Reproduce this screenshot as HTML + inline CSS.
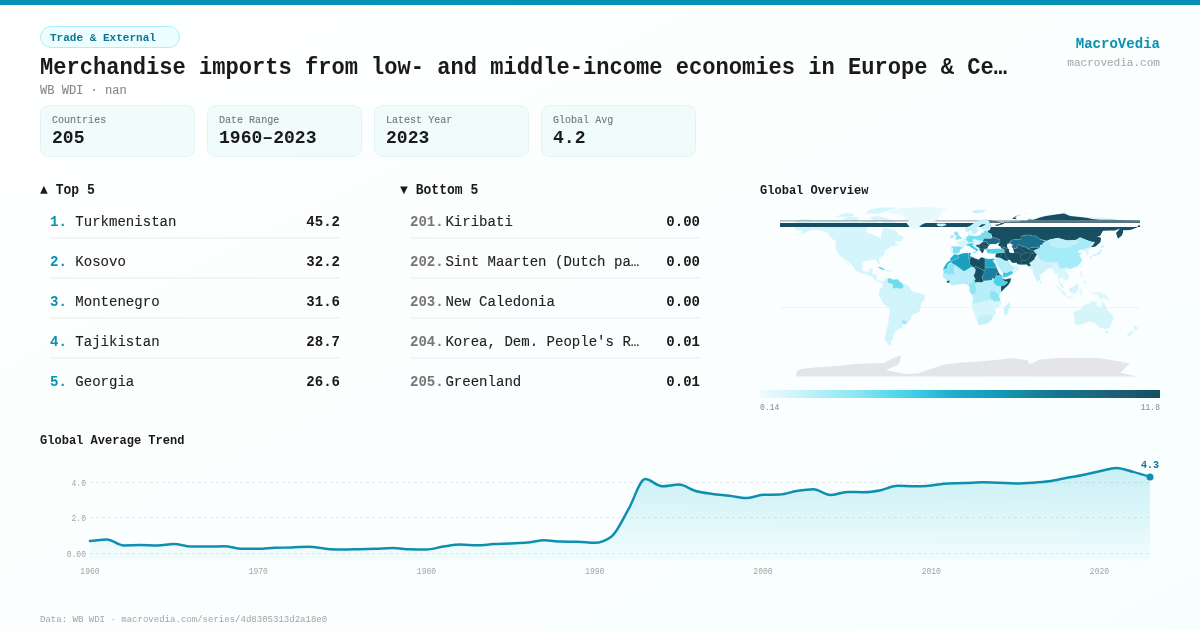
<!DOCTYPE html>
<html><head><meta charset="utf-8"><style>
html,body{margin:0;padding:0;width:1200px;height:630px;overflow:hidden;}
body{background:linear-gradient(to bottom right,#ffffff 0%,#f8fefe 100%);}
svg{display:block;font-family:"Liberation Mono", monospace;will-change:transform;}
</style></head><body>
<svg width="1200" height="630" viewBox="0 0 1200 630">
<rect x="0" y="0" width="1200" height="5" fill="#0891b2"/>
<rect x="40.5" y="26.5" width="139" height="21" rx="10.5" fill="#ecfeff" stroke="#a5f3fc" stroke-width="1"/>
<text x="50" y="41.2" font-size="11.77" fill="#0e7490" font-weight="bold" text-anchor="start" textLength="105.96" lengthAdjust="spacingAndGlyphs">Trade &amp; External</text>
<text x="40" y="73.8" font-size="23.54" fill="#1a1a1a" font-weight="bold" text-anchor="start" textLength="966.89" lengthAdjust="spacingAndGlyphs">Merchandise imports from low- and middle-income economies in Europe &amp; Ce…</text>
<text x="40" y="93.8" font-size="12.84" fill="#888888" font-weight="normal" text-anchor="start" textLength="86.70" lengthAdjust="spacingAndGlyphs" stroke="#888888" stroke-width="0.12">WB WDI · nan</text>
<text x="1160" y="48" font-size="14.98" fill="#0891b2" font-weight="bold" text-anchor="end" textLength="84.29" lengthAdjust="spacingAndGlyphs">MacroVedia</text>
<text x="1160" y="66" font-size="11.77" fill="#aaaaaa" font-weight="normal" text-anchor="end" textLength="92.72" lengthAdjust="spacingAndGlyphs" stroke="#aaaaaa" stroke-width="0.12">macrovedia.com</text>
<rect x="40.5" y="105.5" width="154" height="51" rx="8" fill="#f0fbfc" stroke="#e3f3f5" stroke-width="1"/>
<text x="52" y="123" font-size="10.70" fill="#777777" font-weight="normal" text-anchor="start" textLength="54.18" lengthAdjust="spacingAndGlyphs" stroke="#777777" stroke-width="0.12">Countries</text>
<text x="52" y="143" font-size="19.26" fill="#1a1a1a" font-weight="bold" text-anchor="start" textLength="32.51" lengthAdjust="spacingAndGlyphs">205</text>
<rect x="207.5" y="105.5" width="154" height="51" rx="8" fill="#f0fbfc" stroke="#e3f3f5" stroke-width="1"/>
<text x="219" y="123" font-size="10.70" fill="#777777" font-weight="normal" text-anchor="start" textLength="60.20" lengthAdjust="spacingAndGlyphs" stroke="#777777" stroke-width="0.12">Date Range</text>
<text x="219" y="143" font-size="19.26" fill="#1a1a1a" font-weight="bold" text-anchor="start" textLength="97.53" lengthAdjust="spacingAndGlyphs">1960–2023</text>
<rect x="374.5" y="105.5" width="154" height="51" rx="8" fill="#f0fbfc" stroke="#e3f3f5" stroke-width="1"/>
<text x="386" y="123" font-size="10.70" fill="#777777" font-weight="normal" text-anchor="start" textLength="66.23" lengthAdjust="spacingAndGlyphs" stroke="#777777" stroke-width="0.12">Latest Year</text>
<text x="386" y="143" font-size="19.26" fill="#1a1a1a" font-weight="bold" text-anchor="start" textLength="43.35" lengthAdjust="spacingAndGlyphs">2023</text>
<rect x="541.5" y="105.5" width="154" height="51" rx="8" fill="#f0fbfc" stroke="#e3f3f5" stroke-width="1"/>
<text x="553" y="123" font-size="10.70" fill="#777777" font-weight="normal" text-anchor="start" textLength="60.20" lengthAdjust="spacingAndGlyphs" stroke="#777777" stroke-width="0.12">Global Avg</text>
<text x="553" y="143" font-size="19.26" fill="#1a1a1a" font-weight="bold" text-anchor="start" textLength="32.51" lengthAdjust="spacingAndGlyphs">4.2</text>
<text x="40" y="194" font-size="13.91" fill="#1a1a1a" font-weight="bold" text-anchor="start" textLength="54.79" lengthAdjust="spacingAndGlyphs">▲ Top 5</text>
<text x="400" y="194" font-size="13.91" fill="#1a1a1a" font-weight="bold" text-anchor="start" textLength="78.27" lengthAdjust="spacingAndGlyphs">▼ Bottom 5</text>
<text x="50" y="226" font-size="14.98" fill="#0891b2" font-weight="bold" text-anchor="start" textLength="16.86" lengthAdjust="spacingAndGlyphs">1.</text>
<text x="75.3" y="226" font-size="14.98" fill="#222222" font-weight="normal" text-anchor="start" textLength="101.14" lengthAdjust="spacingAndGlyphs" stroke="#222222" stroke-width="0.12">Turkmenistan</text>
<text x="340" y="226" font-size="14.98" fill="#1a1a1a" font-weight="bold" text-anchor="end" textLength="33.71" lengthAdjust="spacingAndGlyphs">45.2</text>
<rect x="50" y="237" width="290" height="2" fill="#f3f4f5"/>
<text x="50" y="266" font-size="14.98" fill="#0891b2" font-weight="bold" text-anchor="start" textLength="16.86" lengthAdjust="spacingAndGlyphs">2.</text>
<text x="75.3" y="266" font-size="14.98" fill="#222222" font-weight="normal" text-anchor="start" textLength="50.57" lengthAdjust="spacingAndGlyphs" stroke="#222222" stroke-width="0.12">Kosovo</text>
<text x="340" y="266" font-size="14.98" fill="#1a1a1a" font-weight="bold" text-anchor="end" textLength="33.71" lengthAdjust="spacingAndGlyphs">32.2</text>
<rect x="50" y="277" width="290" height="2" fill="#f3f4f5"/>
<text x="50" y="306" font-size="14.98" fill="#0891b2" font-weight="bold" text-anchor="start" textLength="16.86" lengthAdjust="spacingAndGlyphs">3.</text>
<text x="75.3" y="306" font-size="14.98" fill="#222222" font-weight="normal" text-anchor="start" textLength="84.29" lengthAdjust="spacingAndGlyphs" stroke="#222222" stroke-width="0.12">Montenegro</text>
<text x="340" y="306" font-size="14.98" fill="#1a1a1a" font-weight="bold" text-anchor="end" textLength="33.71" lengthAdjust="spacingAndGlyphs">31.6</text>
<rect x="50" y="317" width="290" height="2" fill="#f3f4f5"/>
<text x="50" y="346" font-size="14.98" fill="#0891b2" font-weight="bold" text-anchor="start" textLength="16.86" lengthAdjust="spacingAndGlyphs">4.</text>
<text x="75.3" y="346" font-size="14.98" fill="#222222" font-weight="normal" text-anchor="start" textLength="84.29" lengthAdjust="spacingAndGlyphs" stroke="#222222" stroke-width="0.12">Tajikistan</text>
<text x="340" y="346" font-size="14.98" fill="#1a1a1a" font-weight="bold" text-anchor="end" textLength="33.71" lengthAdjust="spacingAndGlyphs">28.7</text>
<rect x="50" y="357" width="290" height="2" fill="#f3f4f5"/>
<text x="50" y="386" font-size="14.98" fill="#0891b2" font-weight="bold" text-anchor="start" textLength="16.86" lengthAdjust="spacingAndGlyphs">5.</text>
<text x="75.3" y="386" font-size="14.98" fill="#222222" font-weight="normal" text-anchor="start" textLength="59.00" lengthAdjust="spacingAndGlyphs" stroke="#222222" stroke-width="0.12">Georgia</text>
<text x="340" y="386" font-size="14.98" fill="#1a1a1a" font-weight="bold" text-anchor="end" textLength="33.71" lengthAdjust="spacingAndGlyphs">26.6</text>
<text x="410" y="226" font-size="14.98" fill="#777777" font-weight="bold" text-anchor="start" textLength="33.71" lengthAdjust="spacingAndGlyphs">201.</text>
<text x="445.4" y="226" font-size="14.98" fill="#222222" font-weight="normal" text-anchor="start" textLength="67.43" lengthAdjust="spacingAndGlyphs" stroke="#222222" stroke-width="0.12">Kiribati</text>
<text x="700" y="226" font-size="14.98" fill="#1a1a1a" font-weight="bold" text-anchor="end" textLength="33.71" lengthAdjust="spacingAndGlyphs">0.00</text>
<rect x="410" y="237" width="290" height="2" fill="#f3f4f5"/>
<text x="410" y="266" font-size="14.98" fill="#777777" font-weight="bold" text-anchor="start" textLength="33.71" lengthAdjust="spacingAndGlyphs">202.</text>
<text x="445.4" y="266" font-size="14.98" fill="#222222" font-weight="normal" text-anchor="start" textLength="193.86" lengthAdjust="spacingAndGlyphs" stroke="#222222" stroke-width="0.12">Sint Maarten (Dutch pa…</text>
<text x="700" y="266" font-size="14.98" fill="#1a1a1a" font-weight="bold" text-anchor="end" textLength="33.71" lengthAdjust="spacingAndGlyphs">0.00</text>
<rect x="410" y="277" width="290" height="2" fill="#f3f4f5"/>
<text x="410" y="306" font-size="14.98" fill="#777777" font-weight="bold" text-anchor="start" textLength="33.71" lengthAdjust="spacingAndGlyphs">203.</text>
<text x="445.4" y="306" font-size="14.98" fill="#222222" font-weight="normal" text-anchor="start" textLength="109.57" lengthAdjust="spacingAndGlyphs" stroke="#222222" stroke-width="0.12">New Caledonia</text>
<text x="700" y="306" font-size="14.98" fill="#1a1a1a" font-weight="bold" text-anchor="end" textLength="33.71" lengthAdjust="spacingAndGlyphs">0.00</text>
<rect x="410" y="317" width="290" height="2" fill="#f3f4f5"/>
<text x="410" y="346" font-size="14.98" fill="#777777" font-weight="bold" text-anchor="start" textLength="33.71" lengthAdjust="spacingAndGlyphs">204.</text>
<text x="445.4" y="346" font-size="14.98" fill="#222222" font-weight="normal" text-anchor="start" textLength="193.86" lengthAdjust="spacingAndGlyphs" stroke="#222222" stroke-width="0.12">Korea, Dem. People&#39;s R…</text>
<text x="700" y="346" font-size="14.98" fill="#1a1a1a" font-weight="bold" text-anchor="end" textLength="33.71" lengthAdjust="spacingAndGlyphs">0.01</text>
<rect x="410" y="357" width="290" height="2" fill="#f3f4f5"/>
<text x="410" y="386" font-size="14.98" fill="#777777" font-weight="bold" text-anchor="start" textLength="33.71" lengthAdjust="spacingAndGlyphs">205.</text>
<text x="445.4" y="386" font-size="14.98" fill="#222222" font-weight="normal" text-anchor="start" textLength="75.86" lengthAdjust="spacingAndGlyphs" stroke="#222222" stroke-width="0.12">Greenland</text>
<text x="700" y="386" font-size="14.98" fill="#1a1a1a" font-weight="bold" text-anchor="end" textLength="33.71" lengthAdjust="spacingAndGlyphs">0.01</text>
<text x="760" y="194" font-size="12.84" fill="#1a1a1a" font-weight="bold" text-anchor="start" textLength="108.37" lengthAdjust="spacingAndGlyphs">Global Overview</text>
<rect x="780" y="307" width="360" height="1" fill="#e3f6f9"/>
<polygon points="792.0,224.4 796.0,223.5 794.0,221.7 799.0,219.7 803.5,218.7 808.0,219.2 815.0,219.9 819.0,220.4 824.0,221.0 831.0,220.0 836.0,220.5 842.0,221.5 849.0,222.2 854.0,221.7 862.0,222.2 865.0,221.5 870.0,221.5 875.0,220.3 879.0,221.4 878.0,223.5 873.0,226.0 868.0,227.5 866.0,231.0 867.5,233.0 872.0,234.0 878.0,237.0 881.0,238.5 881.0,235.0 883.0,230.0 882.0,227.5 887.0,228.0 890.0,229.0 895.0,230.0 898.0,233.0 899.0,234.5 904.0,237.5 901.0,241.5 895.0,241.3 896.0,244.0 899.0,244.5 894.0,246.2 890.0,246.5 890.0,248.3 886.0,249.5 884.0,253.0 884.5,254.8 882.0,256.2 879.0,258.5 879.8,263.0 879.5,264.8 878.2,264.0 877.2,262.0 876.0,260.0 872.0,259.6 870.0,260.8 866.0,260.4 862.8,262.2 862.5,265.0 862.2,268.0 863.0,271.0 865.5,271.8 869.0,271.2 869.5,269.0 873.0,268.5 872.5,272.0 871.8,274.0 876.0,274.2 876.8,275.5 876.4,279.0 878.5,281.0 881.0,280.5 882.5,281.5 882.0,282.5 880.0,282.6 877.0,281.7 874.0,278.5 872.0,276.8 868.0,275.5 865.0,274.0 861.0,273.3 855.0,270.2 854.3,267.5 851.0,264.5 847.5,261.0 845.2,258.5 846.0,261.0 848.0,264.0 850.5,267.0 848.0,265.0 846.0,262.0 844.2,259.5 842.9,257.5 839.5,255.5 837.5,252.5 836.0,249.5 835.5,247.0 836.0,243.5 835.3,241.7 837.0,241.0 833.0,239.5 830.0,236.0 827.0,232.5 823.0,231.5 820.0,230.2 816.0,230.0 812.0,229.5 808.0,231.0 806.0,232.5 802.0,233.5 798.0,235.0 795.5,235.5 801.0,233.0 802.5,231.2 798.0,230.2 795.3,229.2 794.5,227.5 796.0,226.5 799.0,225.5 794.0,225.4" fill="#d3f5fb"/>
<polygon points="882.5,281.5 884.0,280.5 885.0,279.0 888.0,277.7 890.0,277.9 892.0,279.4 896.0,279.4 898.0,279.3 899.5,281.5 902.5,284.0 906.0,284.4 908.5,285.7 910.0,288.2 911.0,290.2 912.0,291.0 915.5,292.5 919.0,293.0 922.0,294.0 924.8,295.5 925.0,299.0 923.0,301.5 921.0,304.0 920.8,307.5 919.5,311.0 918.0,312.9 915.5,313.3 911.5,316.0 911.2,318.5 909.0,321.0 907.0,323.8 905.0,324.8 901.5,324.0 903.0,326.5 902.3,328.2 898.0,329.0 897.7,330.8 895.0,331.0 895.5,332.5 892.5,336.0 894.2,337.8 891.7,340.1 891.0,342.3 891.5,344.5 893.5,345.0 890.0,345.2 887.5,343.5 885.5,341.0 884.5,337.0 886.2,333.5 886.5,329.0 888.4,323.0 888.6,318.5 889.7,313.0 889.8,308.5 884.5,305.0 882.0,301.0 880.2,297.3 878.8,295.5 879.7,293.5 879.1,291.5 880.0,289.2 881.2,288.2 882.5,286.1 882.7,283.5 882.1,282.8" fill="#d0f4fa"/>
<polygon points="880.0,216.5 888.0,218.5 893.0,220.5 898.0,223.5 896.0,226.0 895.0,227.5 888.0,227.0 884.0,225.5 882.0,221.0 872.0,220.0 870.0,217.5 875.0,216.2" fill="#d3f5fb"/>
<polygon points="842.0,219.0 850.0,216.5 858.0,217.5 859.0,221.0 852.0,221.5 843.0,220.5" fill="#d3f5fb"/>
<polygon points="865.0,213.5 870.0,209.5 880.0,207.5 898.0,207.5 890.0,210.0 882.0,213.0 877.0,213.5" fill="#d3f5fb"/>
<polygon points="835.0,218.0 841.0,214.0 848.0,213.0 855.0,214.5 852.0,216.5 842.0,217.0" fill="#d3f5fb"/>
<polygon points="954.2,254.2 950.2,258.5 950.4,260.5 947.0,262.5 943.0,269.0 943.5,271.0 943.5,274.0 942.5,275.3 943.3,277.5 945.0,279.0 946.5,280.5 948.5,283.0 952.5,285.6 956.0,284.8 961.0,284.0 964.5,283.7 968.5,285.5 969.8,287.5 969.5,291.0 972.0,295.0 973.2,298.5 972.0,303.5 971.8,307.0 974.5,312.5 975.2,317.0 977.0,319.0 978.3,322.5 978.5,324.2 980.0,324.8 982.5,324.0 985.5,324.0 988.0,323.0 990.5,321.0 992.5,318.5 992.8,316.0 995.5,314.0 995.5,311.5 994.7,309.8 996.8,307.8 1000.5,305.0 1000.5,301.0 999.3,297.0 999.3,295.0 1001.5,291.7 1005.0,288.0 1008.0,285.5 1010.5,281.5 1011.2,278.2 1008.0,278.8 1005.0,279.5 1003.3,278.5 1003.2,277.3 1001.5,275.5 999.5,274.3 998.5,272.0 997.3,269.0 996.0,266.0 995.0,263.5 993.8,262.3 992.5,260.0 994.2,258.8 992.0,258.7 989.0,259.1 985.0,258.2 982.0,257.2 980.0,258.0 979.0,259.7 975.5,258.5 971.5,256.8 970.0,255.7 971.0,253.0 969.5,252.7 967.0,253.0 963.0,253.2 959.0,254.5 957.5,254.7" fill="#b8eef8"/>
<polygon points="1009.3,302.0 1010.5,305.5 1009.5,307.0 1008.3,311.5 1007.0,315.0 1005.0,315.5 1003.7,313.0 1004.0,310.0 1004.4,306.5 1006.3,305.7 1008.0,303.5" fill="#c9f2fa"/>
<polygon points="954.4,254.0 953.8,253.2 951.2,253.0 951.0,251.0 950.8,247.2 952.0,246.3 958.0,246.6 958.5,244.0 955.5,241.7 958.5,241.3 961.5,239.9 964.0,238.7 965.5,236.8 968.5,236.3 968.2,234.5 968.4,233.0 970.5,232.3 970.5,234.0 972.3,235.7 974.5,236.1 979.0,235.6 981.0,234.5 981.2,232.8 984.0,232.6 983.5,230.8 988.0,230.5 990.0,230.0 982.5,229.7 981.5,228.5 981.5,226.8 985.0,225.0 985.5,224.3 982.0,224.2 979.0,226.5 977.5,227.5 977.2,229.0 978.8,230.2 976.5,232.5 976.0,233.8 972.8,234.5 971.5,231.8 970.5,230.6 968.0,231.8 965.6,231.2 965.0,229.0 965.5,227.5 970.0,226.0 974.0,223.0 978.0,220.5 982.0,219.8 986.0,219.0 991.0,220.0 993.0,220.8 996.0,221.0 1001.0,222.5 1000.0,224.0 994.5,225.0 997.0,226.0 1004.0,223.8 1004.0,221.5 1007.0,222.0 1013.0,221.5 1019.0,221.5 1021.0,220.2 1026.0,220.7 1029.0,217.5 1033.0,219.0 1035.0,217.5 1040.0,216.5 1046.0,215.5 1056.0,214.0 1064.0,212.3 1073.0,216.5 1080.0,217.0 1088.0,217.5 1100.0,217.5 1110.0,218.5 1120.0,220.0 1130.0,220.0 1140.0,221.2 1140.0,225.0 1138.0,225.5 1137.0,227.5 1133.0,229.0 1130.0,230.0 1123.0,230.2 1123.0,232.5 1122.0,235.2 1118.0,238.8 1116.0,233.0 1120.0,228.5 1115.0,230.5 1110.0,230.5 1103.0,230.7 1100.0,236.0 1097.0,236.0 1101.0,238.0 1100.5,242.0 1095.5,246.5 1091.0,247.5 1089.5,249.5 1088.0,251.5 1089.3,254.5 1086.5,255.5 1086.5,252.5 1085.0,250.5 1081.5,251.0 1081.5,249.2 1078.0,251.0 1079.0,252.7 1082.5,253.0 1079.5,255.0 1080.8,257.5 1081.9,259.0 1081.9,260.5 1079.5,264.5 1076.5,267.0 1073.0,267.8 1070.5,269.0 1068.3,268.4 1066.5,270.0 1065.8,271.0 1068.8,274.7 1069.3,278.2 1066.5,280.5 1065.0,281.4 1064.8,279.5 1063.0,279.0 1060.8,277.3 1060.0,279.5 1059.2,280.8 1060.3,283.0 1062.0,284.0 1063.5,285.5 1063.5,288.6 1061.3,287.2 1060.3,284.5 1058.5,281.8 1058.5,279.5 1057.5,273.5 1054.5,274.0 1054.2,271.2 1052.3,269.2 1051.8,267.7 1050.0,268.2 1048.0,268.3 1046.8,269.5 1045.0,270.7 1042.3,273.4 1040.2,274.5 1040.3,277.0 1039.8,279.7 1037.5,282.0 1036.5,280.5 1034.8,277.2 1033.5,274.0 1032.8,270.7 1032.6,268.5 1030.5,269.0 1029.0,267.5 1028.3,266.3 1026.8,264.6 1021.5,264.8 1017.5,264.3 1016.5,262.8 1013.0,263.0 1011.3,262.0 1010.0,260.0 1008.0,259.8 1009.0,261.8 1010.5,264.5 1011.5,265.7 1014.0,265.8 1016.3,263.8 1016.5,265.5 1018.5,266.5 1019.8,267.6 1017.8,271.0 1016.0,272.1 1012.5,273.7 1008.5,276.0 1005.0,277.2 1003.3,277.2 1002.7,275.0 1002.2,272.5 1000.8,270.4 999.0,268.3 997.5,265.0 995.2,262.0 994.8,260.5 994.3,258.8 995.0,257.2 996.0,255.3 996.0,253.5 992.5,253.8 990.5,253.5 988.0,253.2 986.5,251.5 986.5,249.8 986.0,249.2 984.0,249.4 983.5,252.0 982.0,253.5 981.0,251.5 979.5,250.0 979.5,248.2 976.0,246.5 973.7,244.4 972.3,244.8 973.9,246.5 976.0,248.1 978.5,249.8 977.0,251.1 975.7,252.0 975.7,250.0 972.6,248.5 970.5,247.0 968.8,245.6 967.5,246.2 964.5,246.6 963.0,247.5 963.2,248.1 960.8,249.0 959.7,250.5 960.2,251.3 959.3,252.4 957.8,253.3 955.5,253.3" fill="#d8f6fb"/>
<polygon points="1069.0,288.5 1071.0,288.0 1075.0,285.0 1077.0,283.0 1079.0,285.0 1078.0,289.0 1076.0,293.7 1071.0,293.0 1069.5,291.0" fill="#d5f5fb"/>
<polygon points="1055.3,284.4 1058.0,286.0 1063.5,291.0 1066.0,293.0 1066.0,295.8 1064.5,295.9 1062.0,294.0 1060.0,291.0 1057.0,287.5" fill="#dff8fc"/>
<polygon points="1065.5,296.8 1068.0,296.0 1071.0,296.5 1074.5,297.7 1074.5,298.7 1068.0,297.8" fill="#dff8fc"/>
<polygon points="1079.0,290.0 1080.0,289.0 1085.0,288.5 1081.0,289.5 1083.0,291.0 1081.5,291.5 1083.0,295.0 1080.5,295.5 1079.5,293.0" fill="#e3f8fc"/>
<polygon points="1091.0,291.0 1095.0,293.3 1098.0,291.5 1101.0,292.6 1105.0,294.5 1107.5,296.0 1108.0,298.0 1110.5,300.6 1107.0,300.0 1104.0,297.8 1101.0,299.0 1099.0,298.0 1097.8,295.3 1093.0,294.0 1092.0,292.5" fill="#dcf7fb"/>
<polygon points="1080.5,271.5 1082.2,271.5 1082.0,274.0 1084.0,277.0 1080.5,276.5 1080.0,274.0" fill="#e3f8fc"/>
<polygon points="1082.0,283.0 1084.0,281.0 1086.0,280.5 1086.5,283.5 1085.5,284.2 1084.0,283.5" fill="#e3f8fc"/>
<polygon points="1080.2,267.2 1081.0,264.8 1082.0,265.0 1081.0,268.0" fill="#d3f5fb"/>
<polygon points="1068.6,270.8 1070.5,269.9 1071.0,270.4 1069.5,271.8" fill="#d3f5fb"/>
<polygon points="1039.8,283.5 1040.0,280.2 1041.8,282.5 1041.0,284.0" fill="#d3f5fb"/>
<polygon points="1101.0,248.5 1102.0,250.5 1100.5,254.5 1097.0,255.5 1095.0,256.2 1091.0,256.0 1092.5,254.5 1096.0,254.0 1097.0,253.0 1100.0,250.0 1100.0,248.7" fill="#d3f5fb"/>
<polygon points="1100.0,247.5 1101.5,244.5 1105.5,246.5 1103.0,248.0" fill="#d3f5fb"/>
<polygon points="1090.0,258.7 1091.5,258.5 1092.0,256.2 1089.5,256.5" fill="#d3f5fb"/>
<polygon points="1073.5,312.0 1074.0,316.0 1075.0,324.0 1078.0,325.0 1083.5,324.0 1089.0,321.6 1094.0,322.5 1098.0,325.5 1100.5,328.0 1104.0,328.4 1106.5,329.0 1110.0,327.5 1113.5,318.0 1113.0,315.0 1109.5,312.3 1106.0,308.5 1105.3,305.0 1103.5,302.8 1102.5,300.7 1101.5,303.0 1101.5,307.0 1100.5,307.5 1096.0,305.0 1097.0,302.0 1093.0,301.3 1090.0,302.0 1089.0,304.9 1086.0,304.0 1082.2,307.5 1080.0,310.0 1076.0,311.0" fill="#d6f5fb"/>
<polygon points="1104.7,330.7 1108.3,330.9 1108.0,333.2 1106.0,333.6" fill="#d3f5fb"/>
<polygon points="1132.7,324.5 1134.5,326.0 1138.5,327.7 1137.0,329.5 1135.0,331.6 1134.5,329.5" fill="#d3f5fb"/>
<polygon points="1132.7,330.5 1134.3,331.7 1131.0,334.5 1129.0,336.6 1126.5,336.0 1128.0,334.0" fill="#d3f5fb"/>
<polygon points="875.0,268.2 880.0,266.8 885.8,269.8 882.5,270.1 878.0,267.5" fill="#d3f5fb"/>
<polygon points="885.5,271.5 891.5,271.5 890.5,270.2 887.5,270.1" fill="#d3f5fb"/>
<polygon points="1028.2,266.3 1031.0,265.7 1029.5,263.5 1030.0,262.5 1031.0,262.0 1034.5,259.3 1035.0,257.5 1037.0,254.5 1039.0,255.7 1038.5,257.5 1041.0,260.0 1045.0,261.7 1048.0,262.2 1049.0,263.2 1052.0,262.2 1057.0,262.0 1055.0,264.0 1053.0,267.0 1052.3,269.2 1051.8,267.7 1050.0,268.2 1048.0,268.3 1046.8,269.5 1045.0,270.7 1042.3,273.4 1040.2,274.5 1040.3,277.0 1039.8,279.7 1037.5,282.0 1036.5,280.5 1034.8,277.2 1033.5,274.0 1032.8,270.7 1032.6,268.5 1030.5,269.0 1029.0,267.5" fill="#cdf2f9"/>
<polygon points="901.5,324.0 906.5,323.8 906.5,322.0 904.5,320.5 902.2,320.2 901.8,323.0" fill="#9fe8f5"/>
<polygon points="972.0,303.5 971.8,307.0 974.5,312.5 975.2,317.0 977.0,319.0 978.3,322.5 978.5,324.2 980.0,324.8 982.5,324.0 985.5,324.0 988.0,323.0 990.5,321.0 992.5,318.5 992.8,316.0 995.5,314.0 995.5,311.5 994.7,309.8 996.8,307.8 1000.5,305.0 1000.5,301.0 994.5,301.5 990.0,300.0 984.0,301.0 980.0,302.0 976.0,303.0" fill="#d3f5fb"/>
<polygon points="977.0,319.0 978.3,322.5 978.5,324.2 980.0,324.8 982.5,324.0 985.5,324.0 988.0,323.0 990.5,321.0 992.5,318.5 992.8,316.0 991.0,315.5 987.0,314.0 985.0,315.5 980.0,315.0 980.0,318.5" fill="#c3f0f9"/>
<polygon points="968.5,285.5 969.8,287.5 969.5,291.0 971.5,294.0 974.0,294.5 976.0,292.0 976.0,288.0 975.0,285.0 976.0,282.5 974.5,280.3 974.5,277.1 973.5,279.0 972.0,283.0 970.0,283.5" fill="#8ee4f2"/>
<polygon points="899.5,281.5 902.5,284.0 903.5,286.5 902.0,288.5 900.0,288.5 899.0,286.0 898.5,284.0" fill="#6fdcee"/>
<rect x="988" y="219.5" width="152" height="7.5" fill="#fbfefe"/>
<path d="M988.0,220.0 L991.0,220.2 L993.0,220.7 L996.0,221.0 L1001.0,222.5 L1000.0,224.0 L994.5,225.0 L997.0,226.0 L1004.0,223.8 L1004.0,221.5 L1007.0,222.0 L1013.0,221.5 L1019.0,221.5 L1021.0,220.5 L1026.0,220.7 L1029.0,219.5 L1033.0,219.8 L1036.0,219.0 L1040.0,217.5 L1046.0,216.0 L1056.0,214.5 L1064.0,213.5 L1070.0,216.0 L1080.0,217.0 L1088.0,218.0 L1092.0,219.0 L1100.0,219.7 L1110.0,219.8 L1120.0,220.0 L1130.0,220.2 L1140.0,220.5 L1140.0,225.0 L1138.0,225.5 L1137.0,227.5 L1133.0,229.0 L1130.0,230.0 L1123.0,230.2 L1123.0,232.5 L1122.0,235.2 L1118.0,238.8 L1116.0,233.0 L1120.0,228.5 L1115.0,230.5 L1110.0,230.5 L1103.0,230.7 L1100.0,236.0 L1097.0,236.0 L1101.0,238.0 L1100.5,242.0 L1095.5,246.5 L1091.0,247.2 L1091.0,247.0 L1093.0,245.0 L1095.0,241.7 L1091.0,242.2 L1087.0,240.3 L1080.0,237.5 L1076.0,240.0 L1068.0,240.5 L1064.0,239.7 L1058.0,238.0 L1050.0,239.5 L1047.0,240.8 L1040.0,239.2 L1036.0,235.7 L1033.0,236.0 L1029.0,234.7 L1021.0,236.0 L1021.0,239.2 L1015.0,239.5 L1011.5,240.0 L1009.0,243.5 L1007.5,244.5 L1007.0,246.0 L1008.0,248.0 L1006.5,248.2 L1002.0,246.8 L1000.0,246.6 L997.5,245.0 L998.0,242.8 L1000.0,242.3 L1000.0,240.0 L995.5,237.8 L993.0,237.7 L991.5,237.5 L992.0,236.0 L991.0,234.0 L988.0,232.5 L988.0,230.5 L990.0,230.0 L990.0,228.5 L991.0,227.0 L989.5,223.0 L989.0,221.0Z M780,223 L1140,223 L1140,227 L780,227Z" fill="#174e62" fill-rule="evenodd"/>
<polygon points="1012.0,218.7 1016.0,216.0 1022.0,214.5 1028.0,213.2 1026.0,213.8 1018.0,215.2 1015.0,217.5 1017.0,219.3" fill="#174e62"/>
<rect x="780" y="220" width="208" height="1.6" fill="#9aa2a6" fill-opacity="0.7"/>
<rect x="988" y="220" width="152" height="2.9" fill="#88939a" fill-opacity="0.6"/>
<polygon points="965.0,229.0 965.5,227.5 970.0,226.0 974.0,223.0 978.0,220.5 982.0,219.8 986.0,219.0 988.0,220.0 989.0,221.0 989.5,223.0 991.0,227.0 990.0,228.5 987.0,229.5 982.5,229.7 981.5,228.5 981.5,226.8 985.0,225.0 985.5,224.3 982.0,224.2 979.0,226.5 977.5,227.5 977.2,229.0 978.8,230.2 976.5,232.5 976.0,233.8 972.8,234.5 971.5,231.8 970.5,230.6 968.0,231.8 965.6,231.2" fill="#c4f2fa"/>
<polygon points="887.0,212.0 894.0,209.5 900.0,208.0 915.0,207.5 930.0,206.5 940.0,208.0 948.0,208.5 941.0,212.0 940.0,215.0 938.0,219.0 934.0,221.5 928.0,222.0 922.0,224.5 919.0,227.0 917.0,230.0 914.0,229.2 910.5,228.0 908.0,225.0 906.5,223.0 909.0,220.0 905.0,219.0 902.0,214.5 894.0,214.0" fill="#e8f9fc"/>
<polygon points="938.0,226.0 936.5,224.5 937.5,223.6 945.0,223.5 946.5,225.0 942.0,226.6" fill="#c4f2fa"/>
<polygon points="971.0,211.5 977.0,209.8 987.0,210.0 982.0,212.5 976.0,213.4" fill="#c4f2fa"/>
<polygon points="954.3,240.0 961.5,239.0 961.7,237.3 960.0,236.5 958.5,234.5 958.0,232.5 956.5,231.4 955.0,231.4 953.8,233.5 954.5,235.0 957.0,236.0 955.2,237.2 955.5,238.0 954.5,238.3 957.0,238.6" fill="#8fe5f3"/>
<polygon points="954.0,237.8 954.0,235.5 952.0,234.8 950.0,236.0 950.0,238.4" fill="#b5eef8"/>
<polygon points="966.0,236.5 968.5,236.3 968.6,235.1 970.0,235.5 972.3,235.7 974.5,236.1 979.0,235.6 981.0,234.5 981.2,232.8 984.0,232.6 983.5,230.8 988.0,230.5 988.0,232.5 991.0,234.0 992.0,236.0 991.5,237.5 990.5,238.5 984.0,238.4 982.5,241.0 979.0,240.5 975.0,239.2 972.5,239.7 973.5,241.4 973.0,242.5 970.0,242.5 967.5,242.4 968.2,241.0 966.3,240.5 966.0,239.0 966.8,237.7" fill="#75ddef" stroke="#ffffff" stroke-opacity="0.35" stroke-width="0.4"/>
<polygon points="951.0,247.0 952.0,246.3 958.0,246.6 963.2,247.6 963.2,248.1 960.8,249.0 959.7,250.5 960.2,251.3 959.3,252.4 957.8,253.3 955.5,253.3 954.4,254.0 953.8,253.2 952.6,252.8 953.0,251.0 953.0,248.0" fill="#7ddfef" stroke="#ffffff" stroke-opacity="0.35" stroke-width="0.4"/>
<polygon points="967.5,246.2 966.8,244.1 970.5,243.2 973.7,243.5 973.7,244.4 972.3,244.8 973.9,246.5 976.0,248.1 978.5,249.8 977.0,251.1 975.7,252.0 975.7,250.0 972.6,248.5 970.5,247.0 968.8,245.6" fill="#3ccce4" stroke="#ffffff" stroke-opacity="0.35" stroke-width="0.4"/>
<polygon points="972.5,252.0 975.6,251.7 975.0,253.3" fill="#3ccce4" stroke="#ffffff" stroke-opacity="0.35" stroke-width="0.4"/>
<polygon points="980.3,243.8 982.8,242.0 986.6,241.8 988.2,244.5 989.7,244.8 988.6,246.3 987.5,247.5 988.0,248.2 986.3,248.7 986.0,249.2 984.0,249.4 983.5,252.0 982.0,253.5 981.0,251.5 979.5,250.0 979.5,248.2 978.5,247.5 977.5,247.0 976.0,246.0 976.0,245.0 979.0,244.8" fill="#174e62" stroke="#ffffff" stroke-opacity="0.35" stroke-width="0.4"/>
<polygon points="982.5,241.8 984.0,238.4 990.5,238.5 993.0,237.7 995.5,237.8 1000.0,240.0 1000.0,242.3 998.0,243.0 995.0,244.5 993.0,244.0 990.0,244.5 988.5,244.5 988.2,244.5 986.6,241.8" fill="#1b6a85" stroke="#ffffff" stroke-opacity="0.35" stroke-width="0.4"/>
<polygon points="986.2,248.8 989.0,248.8 991.0,248.9 996.0,248.4 1001.5,248.5 1003.5,248.9 1004.3,250.6 1004.8,252.8 1002.0,252.8 1000.0,253.0 996.5,253.2 996.0,253.5 992.5,253.8 990.5,253.5 988.0,253.2 986.5,251.5 986.5,249.8" fill="#4dd3e8" stroke="#ffffff" stroke-opacity="0.35" stroke-width="0.4"/>
<polygon points="1047.8,240.8 1050.0,239.5 1058.0,238.0 1064.0,239.7 1068.0,240.5 1076.0,240.0 1079.5,242.5 1076.0,244.0 1072.0,245.0 1066.0,248.0 1060.0,247.5 1056.0,247.0 1051.0,245.0 1050.5,242.5" fill="#bdf0f9" stroke="#ffffff" stroke-opacity="0.35" stroke-width="0.4"/>
<polygon points="1033.5,250.5 1035.0,252.6 1037.0,254.5 1039.0,255.7 1038.5,257.5 1041.0,260.0 1045.0,261.7 1048.0,262.2 1052.0,262.2 1057.0,262.0 1058.5,265.0 1058.0,266.0 1060.0,268.5 1061.8,268.8 1066.5,267.2 1068.3,268.4 1070.5,269.0 1073.0,267.8 1076.5,267.0 1079.5,264.5 1081.9,260.5 1081.9,259.0 1080.8,257.5 1079.5,255.0 1082.5,253.0 1079.0,252.7 1078.0,251.0 1081.5,249.2 1084.0,250.0 1086.0,248.5 1088.5,248.0 1090.6,247.2 1091.0,245.0 1093.0,242.0 1087.0,240.3 1080.0,237.5 1076.0,240.0 1079.5,242.5 1076.0,244.0 1072.0,245.0 1066.0,248.0 1060.0,247.5 1056.0,247.0 1051.0,245.0 1050.5,242.5 1047.0,240.8 1045.0,243.0 1043.0,243.0 1042.5,244.8 1040.0,245.0 1040.2,247.7 1036.0,249.5" fill="#a5ecf8" stroke="#ffffff" stroke-opacity="0.35" stroke-width="0.4"/>
<polygon points="1007.0,243.0 1009.5,243.7 1011.5,240.0 1015.0,239.5 1021.0,239.2 1021.0,236.0 1029.0,234.7 1033.0,236.0 1036.0,235.7 1040.0,239.2 1045.0,241.0 1047.0,240.8 1043.0,243.0 1042.5,244.8 1040.0,245.0 1040.2,247.7 1035.0,247.2 1031.0,247.7 1028.0,249.0 1026.0,247.2 1022.0,246.5 1018.5,244.5 1016.0,248.7 1012.5,248.0 1010.5,245.5 1009.0,243.5" fill="#1c6f8c" stroke="#ffffff" stroke-opacity="0.35" stroke-width="0.4"/>
<polygon points="995.8,254.2 996.5,253.2 1000.0,253.0 1002.0,252.8 1004.8,252.8 1004.3,250.6 1003.5,248.9 1001.5,248.5 1000.0,246.6 1002.0,246.8 1006.5,248.2 1008.5,248.2 1009.5,249.7 1009.0,251.6 1010.0,252.6 1014.0,253.0 1013.0,249.5 1012.5,248.0 1016.0,248.7 1018.5,244.5 1022.0,246.5 1026.0,247.2 1028.0,249.0 1031.0,247.7 1035.0,247.2 1040.2,247.7 1036.0,249.5 1033.5,250.5 1035.0,252.6 1037.0,254.5 1035.0,257.5 1034.5,259.3 1031.0,262.0 1030.0,262.5 1029.5,263.5 1031.0,265.7 1028.2,266.3 1026.7,264.6 1021.5,264.8 1017.5,264.3 1016.5,262.8 1013.0,263.0 1011.3,262.0 1010.0,260.0 1008.0,259.8 1007.7,260.9 1004.7,260.8 1002.0,258.9 999.0,257.7 996.0,257.5 995.8,256.8 995.1,256.9" fill="#174e62" stroke="#ffffff" stroke-opacity="0.35" stroke-width="0.4"/>
<polygon points="994.8,260.5 997.5,265.0 999.0,268.3 1000.8,270.4 1002.2,272.5 1003.0,272.8 1004.0,272.6 1007.0,273.0 1009.0,271.4 1012.0,271.0 1015.0,267.4 1011.5,265.7 1010.5,264.5 1009.0,261.8 1008.0,261.0 1007.0,261.0 1004.7,260.8 1002.0,258.9 999.0,257.7 997.0,258.5 996.5,260.5" fill="#b3eff9" stroke="#ffffff" stroke-opacity="0.35" stroke-width="0.4"/>
<polygon points="1002.7,275.0 1003.3,277.2 1005.0,277.2 1008.5,276.0 1012.5,273.7 1013.1,273.3 1012.0,271.0 1009.0,271.4 1007.0,273.0 1004.0,272.6 1003.0,272.8" fill="#3bc9e1" stroke="#ffffff" stroke-opacity="0.35" stroke-width="0.4"/>
<polygon points="943.0,269.0 943.5,271.0 943.5,274.0 946.0,273.5 948.0,275.2 948.5,274.5 954.5,274.5 954.5,273.5 954.0,268.5 955.2,265.0 951.3,262.8 951.3,264.0 948.0,264.0 947.0,267.0 947.0,268.7" fill="#8ce3f2" stroke="#ffffff" stroke-opacity="0.35" stroke-width="0.4"/>
<polygon points="954.2,254.2 950.2,258.5 950.4,260.5 947.0,262.5 943.0,269.0 947.0,268.7 947.0,267.0 948.0,264.0 951.3,262.3 951.3,261.5 956.3,259.1 958.8,257.9 958.2,255.0 957.5,254.7" fill="#22b0cc" stroke="#ffffff" stroke-opacity="0.35" stroke-width="0.4"/>
<polygon points="958.2,255.0 958.8,257.9 956.3,259.1 951.3,261.5 951.3,262.8 955.2,265.0 961.2,269.2 963.2,271.0 964.3,270.9 965.8,270.5 967.5,269.2 971.9,266.5 969.5,263.6 969.9,260.0 969.5,259.7 968.2,257.5 968.4,254.5 968.6,253.1 967.0,253.0 963.0,253.2 959.0,254.5" fill="#1a9fc0" stroke="#ffffff" stroke-opacity="0.35" stroke-width="0.4"/>
<polygon points="968.4,254.5 968.2,257.5 969.5,259.7 970.3,258.3 971.5,256.8 970.0,255.7 971.0,253.0 969.5,252.7 968.6,253.1" fill="#1a9fc0" stroke="#ffffff" stroke-opacity="0.35" stroke-width="0.4"/>
<polygon points="969.5,259.7 969.9,260.0 969.5,263.6 971.9,266.5 974.0,267.5 975.5,266.5 984.0,270.5 985.0,270.0 985.0,258.5 982.0,257.2 980.0,258.0 979.0,259.7 975.5,258.5 971.5,256.8 970.3,258.3" fill="#174e62" stroke="#ffffff" stroke-opacity="0.35" stroke-width="0.4"/>
<polygon points="974.0,267.5 975.5,266.5 984.0,270.5 984.0,274.3 982.5,275.9 982.0,277.3 983.8,281.3 981.0,282.5 978.5,282.0 975.5,282.4 974.5,280.3 975.5,279.8 974.5,277.1 973.5,276.0 975.3,272.1 975.5,269.2" fill="#174e62" stroke="#ffffff" stroke-opacity="0.35" stroke-width="0.4"/>
<polygon points="985.0,258.5 985.0,268.0 991.5,268.0 996.9,268.0 995.0,263.5 993.8,262.3 992.5,260.0 994.9,260.5 994.2,258.7 992.0,258.7 989.0,259.1" fill="#1aa6c6" stroke="#ffffff" stroke-opacity="0.35" stroke-width="0.4"/>
<polygon points="984.0,270.5 985.0,270.0 985.0,268.0 996.9,268.0 997.3,269.0 998.5,272.0 996.8,273.5 996.4,275.7 994.3,279.5 992.5,277.8 992.0,280.0 987.0,280.4 983.6,281.0 982.0,277.3 982.5,275.9 984.0,274.3" fill="#1a7e9c" stroke="#ffffff" stroke-opacity="0.35" stroke-width="0.4"/>
<polygon points="996.4,275.7 996.8,273.5 998.5,272.0 999.5,274.3 1001.5,275.5 1003.2,277.3 1000.0,275.5 997.5,275.8" fill="#174e62" stroke="#ffffff" stroke-opacity="0.35" stroke-width="0.4"/>
<polygon points="994.3,279.5 996.4,275.7 997.5,275.8 1000.0,275.5 1002.5,277.5 1003.0,279.0 1004.0,281.0 1008.0,282.0 1005.0,285.0 1002.0,286.0 999.5,286.5 996.0,285.5 995.0,284.0 993.0,282.0" fill="#4cd0e6" stroke="#ffffff" stroke-opacity="0.35" stroke-width="0.4"/>
<polygon points="1003.2,278.5 1005.0,279.5 1008.0,278.8 1011.2,278.2 1010.5,281.5 1008.0,285.5 1005.0,288.0 1001.5,291.7 1001.0,291.0 1001.0,286.0 1002.0,286.0 1005.0,285.0 1008.0,282.0 1004.0,281.0 1003.0,279.0" fill="#174e62" stroke="#ffffff" stroke-opacity="0.35" stroke-width="0.4"/>
<polygon points="946.7,281.0 949.5,280.5 949.5,282.0 948.5,283.1 947.0,282.5" fill="#174e62" stroke="#ffffff" stroke-opacity="0.35" stroke-width="0.4"/>
<polygon points="990.0,291.0 994.0,291.0 997.5,293.5 999.3,295.0 999.3,297.0 1000.5,301.0 994.5,301.5 992.5,299.5 990.5,298.0 989.5,295.0" fill="#8de3f2" stroke="#ffffff" stroke-opacity="0.35" stroke-width="0.4"/>
<polygon points="888.0,278.5 890.0,277.9 892.0,279.4 896.0,279.4 898.0,279.3 899.5,281.5 902.5,284.0 903.5,286.5 902.0,288.5 900.0,288.5 896.0,288.0 893.0,288.8 892.5,284.0 888.0,283.0 887.5,281.0" fill="#6fdcee" stroke="#ffffff" stroke-opacity="0.35" stroke-width="0.4"/>
<polygon points="875.0,268.2 880.0,266.8 885.8,269.8 882.5,270.1 878.0,267.5" fill="#5ad6ea" stroke="#ffffff" stroke-opacity="0.35" stroke-width="0.4"/>
<polyline points="1004.8,252.8 1005.5,254.5 1006.0,257.0 1007.5,258.0 1008.0,259.8" fill="none" stroke="#9db4bc" stroke-opacity="0.55" stroke-width="0.45"/>
<polyline points="1002.0,252.8 1001.3,253.5 1001.0,255.5 999.0,257.7" fill="none" stroke="#9db4bc" stroke-opacity="0.55" stroke-width="0.45"/>
<polyline points="1014.0,253.0 1017.0,252.0 1020.5,253.5 1021.0,255.0 1020.5,256.5 1020.8,258.5 1021.8,259.2 1022.0,260.5 1021.0,263.0 1021.5,264.8" fill="none" stroke="#9db4bc" stroke-opacity="0.55" stroke-width="0.45"/>
<polyline points="1021.8,260.2 1026.0,260.5 1026.5,259.5 1029.0,258.5 1030.0,256.5 1031.5,254.0 1034.5,253.0" fill="none" stroke="#9db4bc" stroke-opacity="0.55" stroke-width="0.45"/>
<polyline points="1021.0,254.5 1024.0,254.0 1025.5,252.8 1027.8,252.8 1030.0,252.5 1031.5,253.0 1033.5,252.5" fill="none" stroke="#9db4bc" stroke-opacity="0.55" stroke-width="0.45"/>
<polyline points="1016.0,248.7 1018.0,247.5 1020.0,248.5 1022.0,250.0 1024.0,251.5 1026.5,252.5" fill="none" stroke="#9db4bc" stroke-opacity="0.55" stroke-width="0.45"/>
<polyline points="1028.0,249.0 1029.0,250.0 1031.0,249.5 1033.0,249.2" fill="none" stroke="#9db4bc" stroke-opacity="0.55" stroke-width="0.45"/>
<polyline points="1030.0,250.5 1033.5,250.5" fill="none" stroke="#9db4bc" stroke-opacity="0.55" stroke-width="0.45"/>
<polyline points="1001.5,248.5 1003.5,248.9 1006.5,248.8 1005.0,250.5 1006.5,251.1" fill="none" stroke="#9db4bc" stroke-opacity="0.55" stroke-width="0.45"/>
<polyline points="982.5,246.0 988.6,246.3" fill="none" stroke="#9db4bc" stroke-opacity="0.55" stroke-width="0.45"/>
<polyline points="981.5,243.8 982.5,245.5" fill="none" stroke="#9db4bc" stroke-opacity="0.55" stroke-width="0.45"/>
<polyline points="980.5,249.2 983.0,248.7 986.3,248.7" fill="none" stroke="#9db4bc" stroke-opacity="0.55" stroke-width="0.45"/>
<polyline points="979.0,244.8 979.5,247.0 980.5,249.0" fill="none" stroke="#9db4bc" stroke-opacity="0.55" stroke-width="0.45"/>
<polyline points="976.0,245.0 977.5,247.0" fill="none" stroke="#9db4bc" stroke-opacity="0.55" stroke-width="0.45"/>
<polygon points="988.0,248.8 988.5,246.5 990.0,244.5 993.0,244.0 996.0,244.7 998.0,243.0 999.5,243.0 998.0,245.0 1001.5,248.5 996.0,248.4 991.0,248.9" fill="#fbfefe"/>
<polygon points="1007.0,244.5 1010.0,243.5 1013.0,244.7 1011.0,247.0 1013.0,248.5 1014.0,252.5 1010.0,252.8 1009.3,250.0 1007.5,247.5" fill="#fbfefe"/>
<polygon points="796.5,371.5 801.0,369.0 814.5,367.5 837.0,366.0 858.0,363.8 883.5,363.0 892.5,358.5 901.5,355.2 898.5,364.5 886.0,370.0 905.0,374.0 918.0,373.5 924.0,371.0 945.0,364.5 960.0,362.7 990.8,360.4 1014.0,358.1 1027.8,360.4 1029.4,364.3 1040.2,359.6 1060.2,358.1 1098.8,358.1 1114.2,360.4 1129.6,363.5 1123.4,369.7 1120.3,372.8 1137.3,376.6 796.0,376.6" fill="#e4e4e9"/>
<defs><linearGradient id="cb" x1="0" x2="1" y1="0" y2="0"><stop offset="0" stop-color="#ecfcfd"/><stop offset="0.05" stop-color="#dcf7fb"/><stop offset="0.1" stop-color="#c8f3fa"/><stop offset="0.175" stop-color="#a8ecf6"/><stop offset="0.25" stop-color="#8ae4f2"/><stop offset="0.325" stop-color="#5ad8ec"/><stop offset="0.39" stop-color="#3ecde5"/><stop offset="0.475" stop-color="#1fb0cc"/><stop offset="0.61" stop-color="#1596b5"/><stop offset="0.675" stop-color="#17849f"/><stop offset="0.75" stop-color="#167490"/><stop offset="0.825" stop-color="#1a6a83"/><stop offset="0.9" stop-color="#1e5c73"/><stop offset="1" stop-color="#174e62"/></linearGradient><linearGradient id="ar" x1="0" x2="0" y1="0" y2="1"><stop offset="0" stop-color="#06b6d4" stop-opacity="0.2"/><stop offset="1" stop-color="#06b6d4" stop-opacity="0.03"/></linearGradient></defs>
<rect x="760" y="390" width="400" height="8" fill="url(#cb)"/>
<text x="760" y="410" font-size="8.56" fill="#888888" font-weight="normal" text-anchor="start" textLength="19.27" lengthAdjust="spacingAndGlyphs">0.14</text>
<text x="1160" y="410" font-size="8.56" fill="#888888" font-weight="normal" text-anchor="end" textLength="19.27" lengthAdjust="spacingAndGlyphs">11.8</text>
<text x="40" y="444" font-size="12.84" fill="#1a1a1a" font-weight="bold" text-anchor="start" textLength="144.49" lengthAdjust="spacingAndGlyphs">Global Average Trend</text>
<line x1="90" x2="1150" y1="482.5" y2="482.5" stroke="#e6e8eb" stroke-width="1" stroke-dasharray="3,3"/>
<text x="86" y="485.5" font-size="8.56" fill="#a3a3a3" font-weight="normal" text-anchor="end" textLength="14.45" lengthAdjust="spacingAndGlyphs">4.0</text>
<line x1="90" x2="1150" y1="517.5" y2="517.5" stroke="#e6e8eb" stroke-width="1" stroke-dasharray="3,3"/>
<text x="86" y="520.5" font-size="8.56" fill="#a3a3a3" font-weight="normal" text-anchor="end" textLength="14.45" lengthAdjust="spacingAndGlyphs">2.0</text>
<line x1="90" x2="1150" y1="553.5" y2="553.5" stroke="#e6e8eb" stroke-width="1" stroke-dasharray="3,3"/>
<text x="86" y="556.5" font-size="8.56" fill="#a3a3a3" font-weight="normal" text-anchor="end" textLength="19.27" lengthAdjust="spacingAndGlyphs">0.00</text>
<text x="90.0" y="574" font-size="8.56" fill="#a3a3a3" font-weight="normal" text-anchor="middle" textLength="19.27" lengthAdjust="spacingAndGlyphs">1960</text>
<text x="258.3" y="574" font-size="8.56" fill="#a3a3a3" font-weight="normal" text-anchor="middle" textLength="19.27" lengthAdjust="spacingAndGlyphs">1970</text>
<text x="426.5" y="574" font-size="8.56" fill="#a3a3a3" font-weight="normal" text-anchor="middle" textLength="19.27" lengthAdjust="spacingAndGlyphs">1980</text>
<text x="594.8" y="574" font-size="8.56" fill="#a3a3a3" font-weight="normal" text-anchor="middle" textLength="19.27" lengthAdjust="spacingAndGlyphs">1990</text>
<text x="763.0" y="574" font-size="8.56" fill="#a3a3a3" font-weight="normal" text-anchor="middle" textLength="19.27" lengthAdjust="spacingAndGlyphs">2000</text>
<text x="931.3" y="574" font-size="8.56" fill="#a3a3a3" font-weight="normal" text-anchor="middle" textLength="19.27" lengthAdjust="spacingAndGlyphs">2010</text>
<text x="1099.5" y="574" font-size="8.56" fill="#a3a3a3" font-weight="normal" text-anchor="middle" textLength="19.27" lengthAdjust="spacingAndGlyphs">2020</text>
<path d="M90.00,541.10C95.61,540.25 101.22,539.40 106.83,539.40C112.43,539.40 118.04,545.40 123.65,545.40C129.26,545.40 134.87,545.10 140.48,545.10C146.08,545.10 151.69,545.50 157.30,545.50C162.91,545.50 168.52,543.90 174.13,543.90C179.74,543.90 185.34,546.60 190.95,546.60C196.56,546.60 202.17,546.60 207.78,546.60C213.39,546.60 218.99,546.20 224.60,546.20C230.21,546.20 235.82,548.63 241.43,548.70C247.04,548.77 252.65,548.80 258.25,548.80C263.86,548.80 269.47,547.92 275.08,547.75C280.69,547.58 286.30,547.67 291.90,547.50C297.51,547.33 303.12,546.70 308.73,546.70C314.34,546.70 319.95,548.22 325.56,548.70C331.16,549.18 336.77,549.60 342.38,549.60C347.99,549.60 353.60,549.35 359.21,549.20C364.81,549.05 370.42,548.88 376.03,548.70C381.64,548.52 387.25,548.10 392.86,548.10C398.47,548.10 404.07,549.17 409.68,549.30C415.29,549.43 420.90,549.50 426.51,549.50C432.12,549.50 437.72,547.42 443.33,546.60C448.94,545.78 454.55,544.60 460.16,544.60C465.77,544.60 471.38,545.30 476.98,545.30C482.59,545.30 488.20,544.42 493.81,544.10C499.42,543.78 505.03,543.67 510.63,543.40C516.24,543.13 521.85,543.03 527.46,542.50C533.07,541.97 538.68,540.20 544.29,540.20C549.89,540.20 555.50,541.53 561.11,541.60C566.72,541.67 572.33,541.63 577.94,541.70C583.54,541.77 589.15,542.85 594.76,542.85C600.37,542.85 605.98,540.73 611.59,536.50C617.20,532.27 622.80,518.97 628.41,509.40C634.02,499.83 639.63,479.10 645.24,479.10C650.85,479.10 656.46,486.25 662.06,486.25C667.67,486.25 673.28,484.60 678.89,484.60C684.50,484.60 690.11,489.40 695.71,490.95C701.32,492.50 706.93,493.09 712.54,493.90C718.15,494.71 723.76,495.10 729.37,495.80C734.97,496.50 740.58,498.10 746.19,498.10C751.80,498.10 757.41,495.08 763.02,494.85C768.62,494.62 774.23,494.73 779.84,494.50C785.45,494.27 791.06,491.88 796.67,491.00C802.28,490.12 807.88,489.25 813.49,489.25C819.10,489.25 824.71,495.00 830.32,495.00C835.93,495.00 841.53,491.90 847.14,491.90C852.75,491.90 858.36,492.20 863.97,492.20C869.58,492.20 875.19,491.27 880.79,490.20C886.40,489.13 892.01,485.80 897.62,485.80C903.23,485.80 908.84,486.35 914.44,486.35C920.05,486.35 925.66,485.89 931.27,485.40C936.88,484.91 942.49,483.60 948.10,483.40C953.70,483.20 959.31,483.28 964.92,483.10C970.53,482.92 976.14,482.30 981.75,482.30C987.35,482.30 992.96,482.51 998.57,482.70C1004.18,482.89 1009.79,483.45 1015.40,483.45C1021.01,483.45 1026.61,483.12 1032.22,482.75C1037.83,482.38 1043.44,482.02 1049.05,481.25C1054.66,480.48 1060.26,479.14 1065.87,478.10C1071.48,477.06 1077.09,476.14 1082.70,475.00C1088.31,473.86 1093.92,472.43 1099.52,471.25C1105.13,470.07 1110.74,467.90 1116.35,467.90C1121.96,467.90 1127.57,470.40 1133.17,471.90C1138.78,473.40 1144.39,475.15 1150.00,476.90L1150.00,560.60L90.00,560.60Z" fill="url(#ar)"/>
<path d="M90.00,541.10C95.61,540.25 101.22,539.40 106.83,539.40C112.43,539.40 118.04,545.40 123.65,545.40C129.26,545.40 134.87,545.10 140.48,545.10C146.08,545.10 151.69,545.50 157.30,545.50C162.91,545.50 168.52,543.90 174.13,543.90C179.74,543.90 185.34,546.60 190.95,546.60C196.56,546.60 202.17,546.60 207.78,546.60C213.39,546.60 218.99,546.20 224.60,546.20C230.21,546.20 235.82,548.63 241.43,548.70C247.04,548.77 252.65,548.80 258.25,548.80C263.86,548.80 269.47,547.92 275.08,547.75C280.69,547.58 286.30,547.67 291.90,547.50C297.51,547.33 303.12,546.70 308.73,546.70C314.34,546.70 319.95,548.22 325.56,548.70C331.16,549.18 336.77,549.60 342.38,549.60C347.99,549.60 353.60,549.35 359.21,549.20C364.81,549.05 370.42,548.88 376.03,548.70C381.64,548.52 387.25,548.10 392.86,548.10C398.47,548.10 404.07,549.17 409.68,549.30C415.29,549.43 420.90,549.50 426.51,549.50C432.12,549.50 437.72,547.42 443.33,546.60C448.94,545.78 454.55,544.60 460.16,544.60C465.77,544.60 471.38,545.30 476.98,545.30C482.59,545.30 488.20,544.42 493.81,544.10C499.42,543.78 505.03,543.67 510.63,543.40C516.24,543.13 521.85,543.03 527.46,542.50C533.07,541.97 538.68,540.20 544.29,540.20C549.89,540.20 555.50,541.53 561.11,541.60C566.72,541.67 572.33,541.63 577.94,541.70C583.54,541.77 589.15,542.85 594.76,542.85C600.37,542.85 605.98,540.73 611.59,536.50C617.20,532.27 622.80,518.97 628.41,509.40C634.02,499.83 639.63,479.10 645.24,479.10C650.85,479.10 656.46,486.25 662.06,486.25C667.67,486.25 673.28,484.60 678.89,484.60C684.50,484.60 690.11,489.40 695.71,490.95C701.32,492.50 706.93,493.09 712.54,493.90C718.15,494.71 723.76,495.10 729.37,495.80C734.97,496.50 740.58,498.10 746.19,498.10C751.80,498.10 757.41,495.08 763.02,494.85C768.62,494.62 774.23,494.73 779.84,494.50C785.45,494.27 791.06,491.88 796.67,491.00C802.28,490.12 807.88,489.25 813.49,489.25C819.10,489.25 824.71,495.00 830.32,495.00C835.93,495.00 841.53,491.90 847.14,491.90C852.75,491.90 858.36,492.20 863.97,492.20C869.58,492.20 875.19,491.27 880.79,490.20C886.40,489.13 892.01,485.80 897.62,485.80C903.23,485.80 908.84,486.35 914.44,486.35C920.05,486.35 925.66,485.89 931.27,485.40C936.88,484.91 942.49,483.60 948.10,483.40C953.70,483.20 959.31,483.28 964.92,483.10C970.53,482.92 976.14,482.30 981.75,482.30C987.35,482.30 992.96,482.51 998.57,482.70C1004.18,482.89 1009.79,483.45 1015.40,483.45C1021.01,483.45 1026.61,483.12 1032.22,482.75C1037.83,482.38 1043.44,482.02 1049.05,481.25C1054.66,480.48 1060.26,479.14 1065.87,478.10C1071.48,477.06 1077.09,476.14 1082.70,475.00C1088.31,473.86 1093.92,472.43 1099.52,471.25C1105.13,470.07 1110.74,467.90 1116.35,467.90C1121.96,467.90 1127.57,470.40 1133.17,471.90C1138.78,473.40 1144.39,475.15 1150.00,476.90" fill="none" stroke="#0e8fb0" stroke-width="2.5" stroke-linejoin="round" stroke-linecap="round"/>
<circle cx="1150" cy="476.9" r="3.5" fill="#0e8fb0"/>
<text x="1150" y="468" font-size="10.70" fill="#0e7490" font-weight="bold" text-anchor="middle" textLength="18.06" lengthAdjust="spacingAndGlyphs">4.3</text>
<text x="40" y="622" font-size="9.63" fill="#a3a3a3" font-weight="normal" text-anchor="start" textLength="287.18" lengthAdjust="spacingAndGlyphs">Data: WB WDI · macrovedia.com/series/4d8305313d2a18e0</text>
</svg></body></html>
